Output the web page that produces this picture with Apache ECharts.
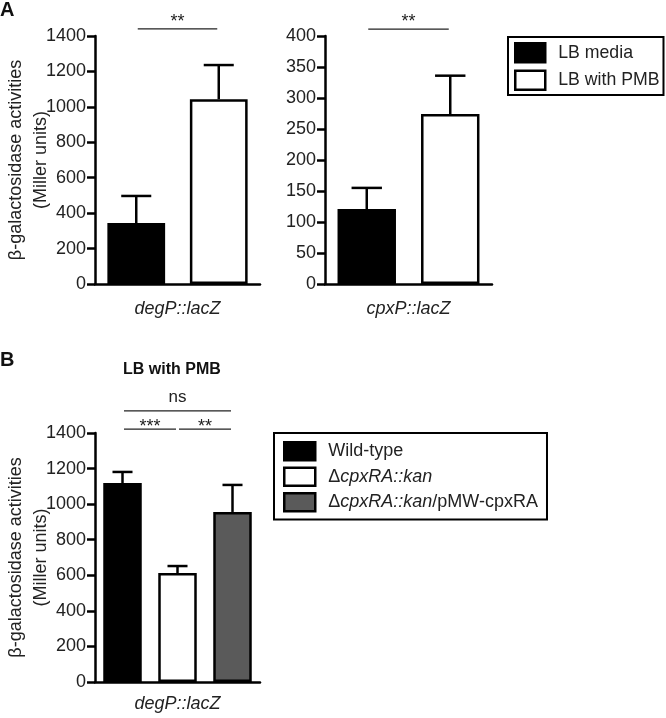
<!DOCTYPE html>
<html>
<head>
<meta charset="utf-8">
<script src="https://cdn.jsdelivr.net/npm/echarts@6/dist/echarts.min.js"></script>
<style>html,body{margin:0;padding:0;background:#fff}#c{width:666px;height:718px}</style>
</head>
<body>
<div id="c"></div>
<script>
// ---------- data ----------
const catA1 = ['degP::lacZ'];
const catA2 = ['cpxP::lacZ'];
const catB = ['degP::lacZ'];
const groupsA = ['LB media', 'LB with PMB'];
const degPA = [344, 1043];
const degPAErr = [153, 193];
const cpxPA = [121, 274];
const cpxPAErr = [34, 62];
const groupsB = ['Wild-type', '\u0394cpxRA::kan', '\u0394cpxRA::kan/pMW-cpxRA'];
const degPB = [1119, 613, 956];
const degPBErr = [62, 39, 152];
// significance brackets: [fromBar, toBar, level, label]
const sigA1 = [[0, 1, 1440, '**']];
const sigA2 = [[0, 1, 411, '**']];
const sigB = [[0, 2, 1524, 'ns'], [0, 1, 1422, '***'], [1, 2, 1422, '**']];
const yAxisA1 = {max: 1400, interval: 200};
const yAxisA2 = {max: 400, interval: 50};
const yAxisB = {max: 1400, interval: 200};

// ---------- styles ----------
const FONT = 'Liberation Sans';
const TXT = '#222';
const colorsA = ['#000000', '#ffffff'];
const colorsB = ['#000000', '#ffffff', '#5a5a5a'];
const LW = 2.5;
const BAR_W = 0.7;

const chart = echarts.init(document.getElementById('c'), null, {renderer: 'canvas'});

const grids = [
  {left: 95, top: 36, width: 165, height: 248, outerBoundsMode: 'none', containLabel: false},
  {left: 325, top: 36, width: 167, height: 248, outerBoundsMode: 'none', containLabel: false},
  {left: 95, top: 433, width: 165, height: 249, outerBoundsMode: 'none', containLabel: false}
];

function visX(gi, cats, margin) {
  return {
    type: 'category', gridIndex: gi, data: cats, position: 'bottom',
    axisLine: {lineStyle: {color: '#000', width: LW}},
    axisTick: {alignWithLabel: true, length: 8, lineStyle: {color: '#000', width: LW}},
    axisLabel: {fontSize: 18, fontStyle: 'italic', color: TXT, margin: margin, fontFamily: FONT}
  };
}
function hidX(gi, cats) {
  return {type: 'category', gridIndex: gi, data: cats, show: false, boundaryGap: true};
}
function yAx(gi, cfg, name) {
  const o = {
    type: 'value', gridIndex: gi, min: 0, max: cfg.max, interval: cfg.interval,
    axisLine: {show: true, lineStyle: {color: '#000', width: LW}},
    axisTick: {show: true, length: 8, lineStyle: {color: '#000', width: LW}},
    axisLabel: {fontSize: 18, color: TXT, margin: 9, fontFamily: FONT,
      formatter: function (v) { return String(v); }},
    splitLine: {show: false}
  };
  if (name) {
    o.name = name;
    o.nameLocation = 'middle';
    o.nameRotate = 90;
    o.nameGap = 41;
    o.nameMoveOverlap = false;
    o.nameTextStyle = {fontSize: 18, color: TXT, lineHeight: 25, fontFamily: FONT};
  }
  return o;
}

function barSeries(names, values, colors, xi, yi) {
  return names.map((n, i) => ({
    type: 'bar', name: n, xAxisIndex: xi, yAxisIndex: yi,
    data: [[i, values[i]]],
    barWidth: (BAR_W * 100) + '%', barGap: '-100%',
    itemStyle: {color: colors[i], borderColor: '#000', borderWidth: LW},
    z: 2
  }));
}

function errSeries(values, errs, xi, yi) {
  return {
    type: 'custom', xAxisIndex: xi, yAxisIndex: yi, z: 3,
    data: values.map((v, i) => [i, v, errs[i]]),
    renderItem: function (params, api) {
      const x = api.value(0), v = api.value(1), e = api.value(2);
      const b = api.coord([x, v]);
      const t = api.coord([x, v + e]);
      const half = api.size([1, 0])[0] * BAR_W * 0.26;
      const st = {stroke: '#000', lineWidth: LW};
      return {type: 'group', children: [
        {type: 'line', shape: {x1: b[0], y1: b[1], x2: t[0], y2: t[1]}, style: st},
        {type: 'line', shape: {x1: t[0] - half, y1: t[1], x2: t[0] + half, y2: t[1]}, style: st}
      ]};
    }
  };
}

function sigSeries(items, xi, yi, starOffset) {
  return {
    type: 'custom', xAxisIndex: xi, yAxisIndex: yi, z: 3, clip: false,
    data: items.map(d => [d[0], d[1], d[2], d[3]]),
    renderItem: function (params, api) {
      const d = items[params.dataIndex];
      const p1 = api.coord([d[0], d[2]]);
      const p2 = api.coord([d[1], d[2]]);
      const isText = d[3] === 'ns';
      const off = isText ? 14 : starOffset;
      return {type: 'group', children: [
        {type: 'line', shape: {x1: p1[0] + 1.5, y1: p1[1], x2: p2[0] - 1.5, y2: p2[1]},
          style: {stroke: '#222', lineWidth: 1.3}},
        {type: 'text', x: (p1[0] + p2[0]) / 2, y: p1[1] - off,
          style: {text: d[3], fill: TXT, fontSize: isText ? 17 : 18, fontFamily: FONT,
            align: 'center', verticalAlign: 'middle'}}
      ]};
    }
  };
}

const richLegend = {i: {fontStyle: 'italic', fontSize: 18, lineHeight: 18, fontFamily: FONT, color: TXT}};
function legendFmt(name) {
  if (name.indexOf('\u0394') === 0) {
    const rest = name.slice(1);
    const k = rest.indexOf('/');
    if (k < 0) return '\u0394{i|' + rest + '}';
    return '\u0394{i|' + rest.slice(0, k) + '}' + rest.slice(k);
  }
  return name;
}

const option = {
  animation: false,
  backgroundColor: '#fff',
  textStyle: {fontFamily: FONT},
  title: [
    {text: 'A', left: 0, top: 0, padding: 0, textStyle: {fontSize: 20, fontWeight: 'bold', color: '#111', fontFamily: FONT}},
    {text: 'B', left: 0, top: 350, padding: 0, textStyle: {fontSize: 20, fontWeight: 'bold', color: '#111', fontFamily: FONT}},
    {text: 'LB with PMB', left: 123, top: 362, padding: 0, textStyle: {fontSize: 16, fontWeight: 'bold', color: '#111', fontFamily: FONT}}
  ],
  legend: [
    {
      data: groupsA, orient: 'vertical', left: 508, top: 37,
      padding: [5, 4, 4, 6], itemGap: 6, itemWidth: 30, itemHeight: 19,
      borderColor: '#000', borderWidth: 2, icon: 'rect',
      itemStyle: {borderColor: '#000', borderWidth: 2.5},
      textStyle: {fontSize: 17.7, lineHeight: 19, color: TXT, fontFamily: FONT, padding: [0, 0, 0, 8]},
      selectedMode: false
    },
    {
      data: groupsB, orient: 'vertical', left: 274, top: 433,
      padding: [8, 9, 7, 9], itemGap: 5, itemWidth: 31, itemHeight: 18,
      borderColor: '#000', borderWidth: 2, icon: 'rect',
      itemStyle: {borderColor: '#000', borderWidth: 2.5},
      formatter: legendFmt,
      textStyle: {fontSize: 18, lineHeight: 18, color: TXT, fontFamily: FONT, padding: [0, 0, 0, 8], rich: richLegend},
      selectedMode: false
    }
  ],
  grid: grids,
  xAxis: [
    visX(0, catA1, 16), hidX(0, groupsA),
    visX(1, catA2, 16), hidX(1, groupsA),
    visX(2, catB, 13), hidX(2, groupsB)
  ],
  yAxis: [
    yAx(0, yAxisA1, '\u03b2-galactosidase activities\n(Miller units)'),
    yAx(1, yAxisA2, null),
    yAx(2, yAxisB, '\u03b2-galactosidase activities\n(Miller units)')
  ],
  series: [].concat(
    barSeries(groupsA, degPA, colorsA, 1, 0),
    [errSeries(degPA, degPAErr, 1, 0), sigSeries(sigA1, 1, 0, 7)],
    barSeries(groupsA, cpxPA, colorsA, 3, 1),
    [errSeries(cpxPA, cpxPAErr, 3, 1), sigSeries(sigA2, 3, 1, 7)],
    barSeries(groupsB, degPB, colorsB, 5, 2),
    [errSeries(degPB, degPBErr, 5, 2), sigSeries(sigB, 5, 2, 2)]
  )
};
chart.setOption(option);
</script>
</body>
</html>
